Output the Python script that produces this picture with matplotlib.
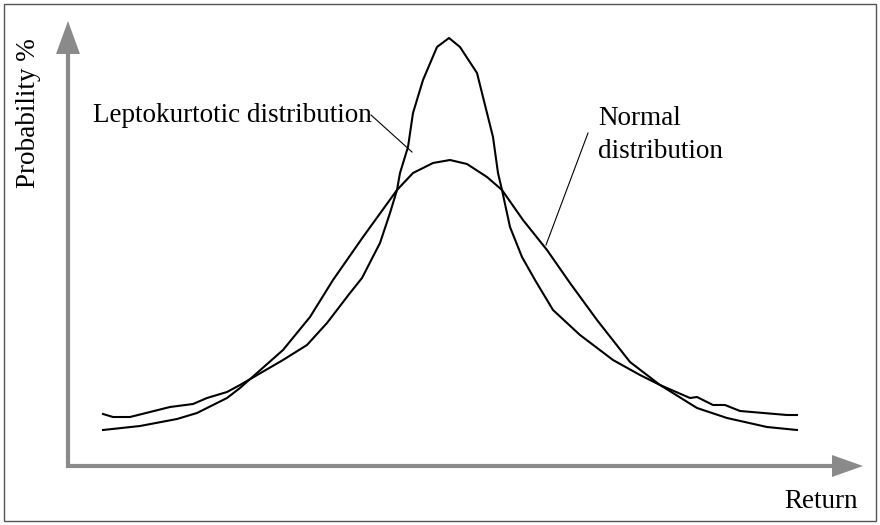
import matplotlib
matplotlib.use("Agg")
import matplotlib.pyplot as plt
from matplotlib.patches import Polygon, Rectangle

# ---- data (x = return position, y = probability height) ----
normal_x = [103, 140, 177, 197, 227, 240, 283, 310, 333, 363, 397, 413, 433, 450,
            467, 487, 502, 523, 547, 570, 597, 630, 660, 697, 727, 767, 797]
normal_y = [36, 40, 47, 53, 68, 78, 116, 149, 186, 229, 276, 293, 303, 306,
            302, 289, 276, 246, 216, 183, 146, 104, 81, 58, 48, 39, 36]

lepto_x = [103, 113, 130, 170, 193, 207, 227, 240, 283, 307, 327, 350, 362, 380,
           390, 397, 400, 408, 413, 423, 437, 449, 460, 477, 483, 493, 498, 502,
           510, 522, 535, 553, 580, 613, 640, 660, 690, 697, 713, 725, 740, 787, 797]
lepto_y = [52, 49, 49, 59, 62, 68, 74, 81, 106, 121, 143, 173, 188, 223,
           253, 276, 293, 319, 353, 386, 419, 428, 419, 393, 369, 329, 293, 276,
           239, 209, 186, 156, 131, 106, 91, 81, 68, 69, 61, 61, 55, 51, 51]

labels = {"lepto": "Leptokurtotic distribution",
          "normal1": "Normal", "normal2": "distribution",
          "x": "Return", "y": "Probability %"}

W, H = 880, 525
fig = plt.figure(figsize=(W / 100, H / 100), dpi=100)
ax = fig.add_axes([0, 0, 1, 1])
ax.set_xlim(0, W)
y0 = 466  # pixel row of the x axis
ax.set_ylim(y0 - H, y0)
ax.axis("off")

font = dict(family="Liberation Serif", size=19.5, color="black")

# border
ax.add_patch(Rectangle((4, y0 - 521), 872, 517, fill=False, edgecolor="#555555", lw=1.0))

# axes arrows
gray = "#8a8a8a"
ax.plot([68, 68], [-2, y0 - 52], color=gray, lw=3.0, solid_capstyle="butt")
ax.add_patch(Polygon([[56, y0 - 54], [80, y0 - 54], [68, y0 - 21]], closed=True,
                     facecolor=gray, edgecolor="none"))
ax.plot([66, 834], [0, 0], color=gray, lw=3.0, solid_capstyle="butt")
ax.add_patch(Polygon([[832, 11], [832, -11], [863, 0]], closed=True,
                     facecolor=gray, edgecolor="none"))

# curves
ax.plot(normal_x, normal_y, color="black", lw=1.5, solid_joinstyle="round")
ax.plot(lepto_x, lepto_y, color="black", lw=1.5, solid_joinstyle="round")

# labels and leader lines
ax.text(93, y0 - 122, labels["lepto"], ha="left", va="baseline", **font)
ax.plot([371, 412], [y0 - 115, y0 - 152], color="black", lw=0.8)
ax.text(598, y0 - 125, labels["normal1"], ha="left", va="baseline", **font)
ax.text(598, y0 - 158, labels["normal2"], ha="left", va="baseline", **font)
ax.plot([588, 546], [y0 - 133, y0 - 245], color="black", lw=0.8)
ax.text(784, y0 - 508, labels["x"], ha="left", va="baseline", **font)
ax.text(29, y0 - 113, labels["y"], ha="center", va="center", rotation=90, **font)

fig.savefig("out.png", dpi=100)
